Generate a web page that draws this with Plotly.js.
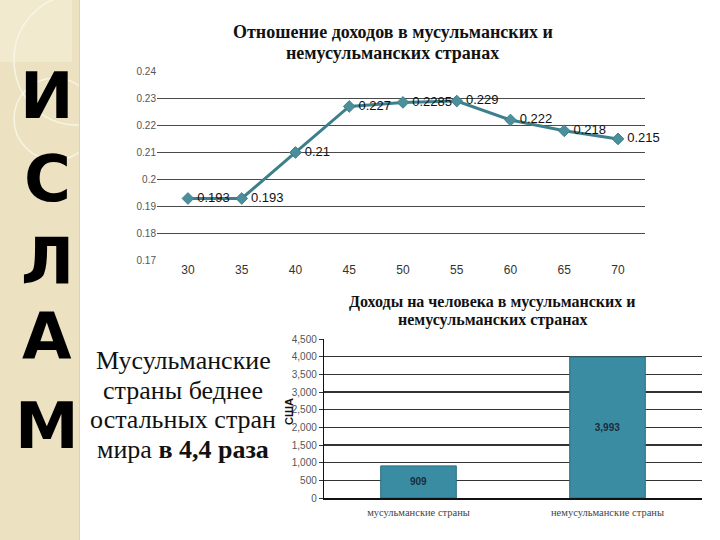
<!DOCTYPE html>
<html>
<head>
<meta charset="utf-8">
<script src="https://cdn.plot.ly/plotly-3.0.1.min.js"></script>
<style>html,body{margin:0;padding:0;background:#fff;}#chart{width:720px;height:540px;}</style>
</head>
<body>
<div id="chart"></div>
<script>
// ---- data ----
const ratioYears = [30, 35, 40, 45, 50, 55, 60, 65, 70];
const ratioValues = [0.193, 0.193, 0.21, 0.227, 0.2285, 0.229, 0.222, 0.218, 0.215];
const incomeCategories = ['мусульманские страны', 'немусульманские страны'];
const incomeValues = [909, 3993];
const incomeTicks = [0, 500, 1000, 1500, 2000, 2500, 3000, 3500, 4000, 4500];
const incomeGridTicks = [500, 1000, 1500, 2000, 2500, 3000, 3500, 4000];
const ratioTicks = [0.17, 0.18, 0.19, 0.2, 0.21, 0.22, 0.23, 0.24];
const sideLetters = ['И', 'С', 'Л', 'А', 'М'];
const sideLetterY = [96, 179, 262, 337, 426];
const bodyLines = ['Мусульманские', 'страны беднее', 'остальных стран', 'мира <b>в 4,4 раза</b>'];
const bodyLineY = [360, 390, 419, 449];
const topTitleLines = ['Отношение доходов в мусульманских и', 'немусульманских странах'];
const topTitleY = [32, 53];
const barTitleLines = ['Доходы на человека в мусульманских и', 'немусульманских странах'];
const barTitleY = [302, 320];

const W = 720, H = 540;
const px = v => v / W;
const py = v => 1 - v / H;
const SERIF = "'Liberation Serif', 'Times New Roman', serif";
const SANS = "'Liberation Sans', Arial, sans-serif";

const traces = [
  {
    type: 'scatter', mode: 'lines+markers+text',
    x: ratioYears, y: ratioValues,
    text: ratioValues.map(v => '\u2009' + String(v)),
    textposition: 'middle right',
    textfont: {family: SANS, size: 13, color: '#111'},
    line: {color: '#3d808c', width: 3},
    marker: {symbol: 'diamond', size: 9, color: '#4a8f9b', line: {color: '#3d808c', width: 1}},
    cliponaxis: false,
    xaxis: 'x', yaxis: 'y', hoverinfo: 'skip'
  },
  {
    type: 'bar', x: incomeCategories, y: incomeValues,
    texttemplate: '%{y:,}', textposition: 'inside', insidetextanchor: 'middle',
    textfont: {family: SANS, size: 10, color: '#1c2c3c', weight: 'bold'},
    marker: {color: '#3a8ca3', line: {color: '#2c6d7d', width: 1}},
    width: 0.4,
    xaxis: 'x2', yaxis: 'y2', hoverinfo: 'skip'
  },
  {type: 'scatter', x: [], y: [], xaxis: 'x2', yaxis: 'y3', hoverinfo: 'skip'}
];

const shapes = [
  {type: 'rect', xref: 'paper', yref: 'paper', x0: 0, x1: px(79), y0: 0, y1: 1, fillcolor: '#ece2c2', line: {width: 0}, layer: 'below'},
  {type: 'rect', xref: 'paper', yref: 'paper', x0: 0, x1: px(72), y0: py(62), y1: 1, fillcolor: '#f1eacf', line: {width: 0}, layer: 'below'},
  {type: 'circle', xref: 'paper', yref: 'paper', x0: px(14), x1: px(140), y0: py(125), y1: py(-5), fillcolor: 'rgba(0,0,0,0)', line: {color: 'rgba(250,246,232,0.9)', width: 1.5}, layer: 'below'},
  {type: 'circle', xref: 'paper', yref: 'paper', x0: px(14), x1: px(96), y0: py(160), y1: py(78), fillcolor: 'rgba(0,0,0,0)', line: {color: 'rgba(250,246,232,0.9)', width: 1.5}, layer: 'below'},
  {type: 'rect', xref: 'paper', yref: 'paper', x0: px(79), x1: px(160), y0: 0, y1: 1, fillcolor: '#ffffff', line: {width: 0}, layer: 'below'},
  {type: 'rect', xref: 'paper', yref: 'paper', x0: px(79), x1: px(80), y0: 0, y1: 1, fillcolor: '#ddd3b4', line: {width: 0}, layer: 'below'}
];

const annotations = [];
sideLetters.forEach((t, i) => annotations.push({
  xref: 'paper', yref: 'paper', x: px(47), y: py(sideLetterY[i]), text: t, showarrow: false,
  xanchor: 'center', yanchor: 'middle',
  font: {family: "'DejaVu Sans', sans-serif", size: 64, color: '#000', weight: 'bold'}
}));
bodyLines.forEach((t, i) => annotations.push({
  xref: 'paper', yref: 'paper', x: px(183), y: py(bodyLineY[i]), text: t, showarrow: false,
  xanchor: 'center', yanchor: 'middle',
  font: {family: SERIF, size: 26, color: '#111'}
}));
topTitleLines.forEach((t, i) => annotations.push({
  xref: 'paper', yref: 'paper', x: px(393), y: py(topTitleY[i]), text: '<b>' + t + '</b>', showarrow: false,
  xanchor: 'center', yanchor: 'middle',
  font: {family: SERIF, size: 18, color: '#111'}
}));
barTitleLines.forEach((t, i) => annotations.push({
  xref: 'paper', yref: 'paper', x: px(492), y: py(barTitleY[i]), text: '<b>' + t + '</b>', showarrow: false,
  xanchor: 'center', yanchor: 'middle',
  font: {family: SERIF, size: 16, color: '#111'}
}));
annotations.push({
  xref: 'paper', yref: 'paper', x: px(289), y: py(412), showarrow: false, xanchor: 'center', yanchor: 'middle',
  text: '<b>США</b>', textangle: -90,
  font: {family: SANS, size: 11, color: '#111'}
});

const layout = {
  width: W, height: H, margin: {l: 0, r: 0, t: 0, b: 0},
  paper_bgcolor: '#ffffff', plot_bgcolor: 'rgba(0,0,0,0)', showlegend: false,
  xaxis: {
    domain: [px(157), px(645)], range: [27.12, 72.51], anchor: 'y',
    tickvals: ratioYears, showgrid: false, zeroline: false, showline: false, ticks: '',
    tickfont: {family: SANS, size: 12, color: '#333'}
  },
  yaxis: {
    domain: [py(261), py(71)], range: [0.1699, 0.2401], anchor: 'x',
    tickvals: ratioTicks, ticktext: ratioTicks.map(v => String(v)),
    showgrid: true, gridcolor: '#4a4a4a', gridwidth: 1.4, zeroline: false, showline: false, ticks: '',
    tickfont: {family: SANS, size: 10, color: '#555'}
  },
  xaxis2: {
    domain: [px(324), px(702)], range: [-0.5, 1.5], anchor: 'y2', type: 'category',
    showgrid: false, zeroline: false, showline: true, linecolor: '#111', linewidth: 1.5, ticks: '',
    ticklabelstandoff: 4,
    tickfont: {family: SERIF, size: 10.5, color: '#444'}
  },
  yaxis2: {
    domain: [py(498), py(339)], range: [0, 4500], anchor: 'x2',
    tickvals: incomeTicks, tickformat: ',', showgrid: false, zeroline: false,
    showline: true, linecolor: '#111', linewidth: 1.2, ticks: 'outside', ticklen: 4, tickcolor: '#333',
    tickfont: {family: SANS, size: 10, color: '#555'}
  },
  yaxis3: {
    overlaying: 'y2', anchor: 'x2', range: [0, 4500], tickvals: incomeGridTicks,
    showgrid: true, gridcolor: '#333', gridwidth: 1.3, showticklabels: false, zeroline: false, showline: false, ticks: ''
  },
  shapes: shapes,
  annotations: annotations
};

Plotly.newPlot('chart', traces, layout, {staticPlot: true, displayModeBar: false});
</script>
</body>
</html>
